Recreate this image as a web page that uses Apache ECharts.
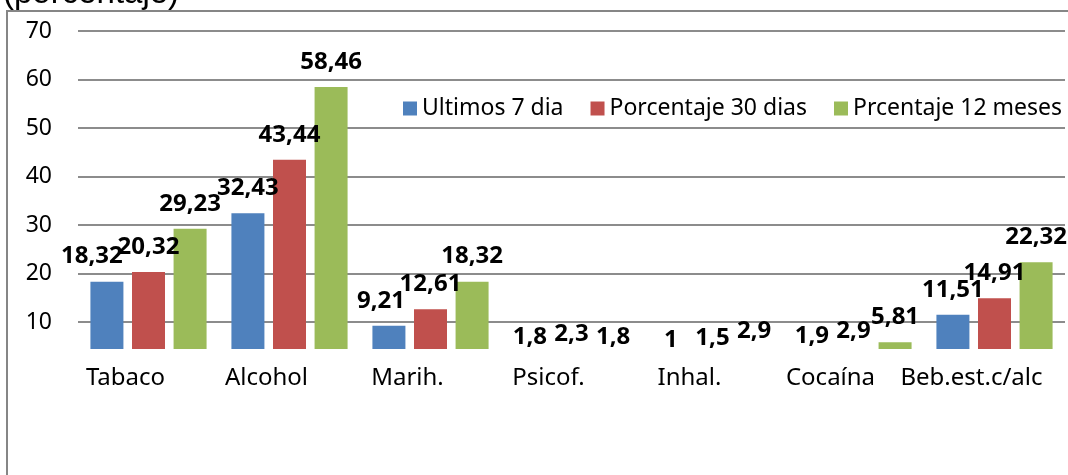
<!DOCTYPE html>
<html>
<head>
<meta charset="utf-8">
<script src="https://cdn.jsdelivr.net/npm/echarts@6/dist/echarts.min.js"></script>
<style>
  html, body { margin: 0; padding: 0; background: #fff; }
  #chart { width: 1068px; height: 475px; }
</style>
</head>
<body>
<div id="chart"></div>
<script>
// categories and series values
const categories = ["Tabaco", "Alcohol", "Marih.", "Psicof.", "Inhal.", "Cocaína", "Beb.est.c/alc"];
const seriesNames = ["Ultimos 7 dia", "Porcentaje 30 dias", "Prcentaje 12 meses"];
const ultimos7 = [18.32, 32.43, 9.21, 1.8, 1, 1.9, 11.51];
const porc30 = [20.32, 43.44, 12.61, 2.3, 1.5, 2.9, 14.91];
const porc12m = [29.23, 58.46, 18.32, 1.8, 2.9, 5.81, 22.32];
const yTicks = [10, 20, 30, 40, 50, 60, 70];

const colors = ["#4f81bd", "#c0504d", "#9bbb59"];
// a couple of labels were dragged sideways in the original
const labelShift = { 0: { 0: -15, 2: -8 } };

const font = "'Noto Sans', 'Open Sans', sans-serif";
const fmt = v => String(v).replace(".", ",");

const chart = echarts.init(document.getElementById("chart"), null, { renderer: "canvas" });

const makeSeries = (name, values, idx) => ({
  name: name,
  type: "bar",
  barWidth: 33,
  barGap: "26%",
  itemStyle: { color: colors[idx] },
  label: {
    show: true,
    position: "top",
    distance: 13,
    color: "#000",
    fontFamily: font,
    fontWeight: "bold",
    fontSize: 24,
    formatter: p => fmt(p.value),
  },
  data: values.map((v, i) => {
    const dx = labelShift[idx] && labelShift[idx][i];
    return dx ? { value: v, label: { offset: [dx, 0] } } : v;
  }),
});

const option = {
  animation: false,
  title: {
    text: "(porcentaje)",
    left: 3,
    top: -23,
    padding: 0,
    textStyle: {
      fontFamily: "'Liberation Sans', Arial, sans-serif",
      fontWeight: "normal",
      fontSize: 33,
      color: "#000",
    },
  },
  legend: {
    data: seriesNames,
    left: 403,
    top: 97,
    icon: "rect",
    itemWidth: 14,
    itemHeight: 14,
    itemGap: 27,
    padding: 0,
    textStyle: { fontFamily: font, fontSize: 23, color: "#000" },
  },
  grid: {
    left: 78,
    right: 3,
    top: 31,
    bottom: 104.5,
    containLabel: false,
    outerBoundsMode: "none",
  },
  xAxis: {
    type: "category",
    data: categories,
    z: 20,
    axisLine: { show: false },
    axisTick: { show: false },
    axisLabel: {
      interval: 0,
      margin: -4,
      color: "#000",
      fontFamily: font,
      fontSize: 24,
      padding: [0, 46, 0, 0],
    },
  },
  yAxis: {
    type: "value",
    min: 0,
    max: 70,
    interval: 10,
    axisLine: { show: false },
    axisTick: { show: false },
    axisLabel: {
      margin: 26,
      color: "#000",
      fontFamily: font,
      fontSize: 23,
      formatter: v => (yTicks.indexOf(v) >= 0 ? String(v) : ""),
    },
    splitLine: { lineStyle: { color: "#8c8c8c", width: 2 } },
  },
  series: [
    makeSeries(seriesNames[0], ultimos7, 0),
    makeSeries(seriesNames[1], porc30, 1),
    makeSeries(seriesNames[2], porc12m, 2),
  ],
  graphic: [
    // white patch over the lower part, where the category names sit
    {
      type: "rect",
      z: 10,
      silent: true,
      shape: { x: 8, y: 349, width: 1060, height: 126 },
      style: { fill: "#fff" },
    },
    {
      type: "line",
      z: 30,
      silent: true,
      shape: { x1: 7, y1: 11, x2: 1068, y2: 11 },
      style: { stroke: "#868686", lineWidth: 2 },
    },
    {
      type: "line",
      z: 30,
      silent: true,
      shape: { x1: 7, y1: 10, x2: 7, y2: 475 },
      style: { stroke: "#868686", lineWidth: 2 },
    },
  ],
};

chart.setOption(option);
</script>
</body>
</html>
